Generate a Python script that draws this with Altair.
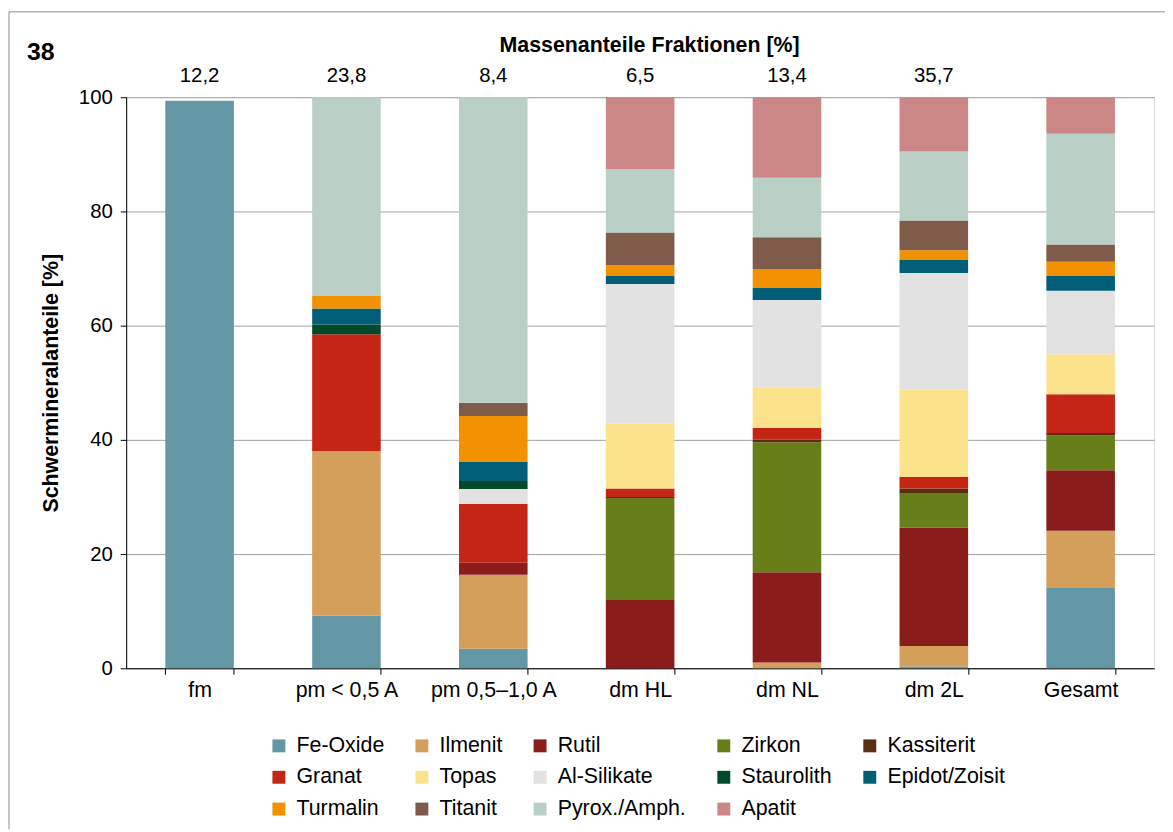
import altair as alt
import pandas as pd

categories = ["fm", "pm < 0,5 A", "pm 0,5–1,0 A", "dm HL", "dm NL", "dm 2L", "Gesamt"]
mass_labels = ["12,2", "23,8", "8,4", "6,5", "13,4", "35,7", ""]

minerals = ["Fe-Oxide", "Ilmenit", "Rutil", "Zirkon", "Kassiterit",
            "Granat", "Topas", "Al-Silikate", "Staurolith", "Epidot/Zoisit",
            "Turmalin", "Titanit", "Pyrox./Amph.", "Apatit"]
colors = ["#6497a6", "#d49f5a", "#8a1d1b", "#687e18", "#5a2d15",
          "#c42514", "#fde28c", "#e2e2e2", "#004a2b", "#005e77",
          "#f39200", "#7f5c4a", "#bad0c7", "#cb8785"]

fe_oxide = [99.4, 9.2, 3.4, 0, 0, 0.3, 14.2]
ilmenit = [0, 28.8, 13.0, 0, 1.0, 3.6, 9.9]
rutil = [0, 0, 2.1, 12.1, 15.8, 20.7, 10.6]
zirkon = [0, 0, 0, 17.7, 22.8, 6.1, 6.1]
kassiterit = [0, 0, 0, 0.2, 0.4, 0.8, 0.4]
granat = [0, 20.5, 10.3, 1.5, 2.1, 2.0, 6.8]
topas = [0, 0, 0, 11.3, 7.1, 15.3, 7.0]
al_silikate = [0, 0, 2.6, 24.5, 15.3, 20.4, 11.1]
staurolith = [0, 1.7, 1.4, 0, 0, 0, 0]
epidot_zoisit = [0, 2.8, 3.4, 1.4, 2.1, 2.3, 2.6]
turmalin = [0, 2.2, 8.0, 1.9, 3.3, 1.7, 2.5]
titanit = [0, 0, 2.3, 5.7, 5.6, 5.2, 3.0]
pyrox_amph = [0, 34.8, 53.5, 11.1, 10.4, 12.1, 19.4]
apatit = [0, 0, 0, 12.6, 14.1, 9.5, 6.4]

series = [fe_oxide, ilmenit, rutil, zirkon, kassiterit, granat, topas,
          al_silikate, staurolith, epidot_zoisit, turmalin, titanit,
          pyrox_amph, apatit]

rows = []
for i, (m, vals) in enumerate(zip(minerals, series)):
    for c, v in zip(categories, vals):
        if v > 0:
            rows.append({"cat": c, "mineral": m, "idx": i, "val": v})
df = pd.DataFrame(rows)
df_top = pd.DataFrame({"cat": categories, "mass": mass_labels})

FONT = "Liberation Sans"

x_enc = alt.X("cat:N", sort=categories,
              scale=alt.Scale(paddingInner=0.533, paddingOuter=0.2665),
              axis=alt.Axis(title=None, labelAngle=0, tickBand="extent",
                            domainColor="black", tickColor="black", tickSize=6,
                            labelFontSize=21.5, labelColor="black", labelPadding=5,
                            grid=False, labelFont=FONT))

bars = alt.Chart(df).mark_bar().encode(
    x=x_enc,
    y=alt.Y("val:Q", stack="zero",
            scale=alt.Scale(domain=[0, 100], nice=False),
            axis=alt.Axis(values=[0, 20, 40, 60, 80, 100],
                          title="Schwermineralanteile [%]",
                          titleFontSize=21.5, titleFontWeight="bold",
                          titleColor="black", titlePadding=16, titleFont=FONT,
                          labelFontSize=20.5, labelColor="black", labelFont=FONT,
                          labelPadding=8, tickSize=6, tickColor="black",
                          domainColor="black", gridColor="#a0a0a0",
                          gridWidth=1)),
    color=alt.Color("mineral:N", scale=alt.Scale(domain=minerals, range=colors),
                    legend=alt.Legend(orient="none", legendX=143, legendY=642,
                                      direction="horizontal",
                                      columns=5, title=None, symbolType="square",
                                      symbolSize=169, symbolStrokeWidth=0,
                                      labelFontSize=21.5, labelColor="black",
                                      labelFont=FONT, gridAlign="each",
                                      columnPadding=27, rowPadding=9,
                                      labelOffset=7, labelLimit=300)),
    order=alt.Order("idx:Q", sort="ascending"),
)

top_labels = alt.Chart(df_top).mark_text(fontSize=20.5, font=FONT, color="black",
                                         baseline="middle").encode(
    x=alt.X("cat:N", sort=categories),
    y=alt.value(-21),
    text="mass:N",
)

head = alt.Chart(pd.DataFrame({"t": ["Massenanteile Fraktionen [%]"]})).mark_text(
    fontSize=21.5, font=FONT, fontWeight="bold", color="black", baseline="middle"
).encode(x=alt.value(527), y=alt.value(-52), text="t:N")

num = alt.Chart(pd.DataFrame({"t": ["38"]})).mark_text(
    fontSize=25, font=FONT, fontWeight="bold", color="black", baseline="middle"
).encode(x=alt.value(-86), y=alt.value(-45), text="t:N")

frame_df = pd.DataFrame({"a": [0]})
border_top = alt.Chart(frame_df).mark_rule(color="#8c8c8c", strokeWidth=1).encode(
    x=alt.value(-118), x2=alt.value(1046), y=alt.value(-86))
border_left = alt.Chart(frame_df).mark_rule(color="#8c8c8c", strokeWidth=1).encode(
    x=alt.value(-118), y=alt.value(-86), y2=alt.value(737))

chart = alt.layer(bars, top_labels, head, num, border_top, border_left).properties(
    width=1035, height=575,
    padding={"left": 119, "top": 87, "right": 11, "bottom": 162},
    autosize=alt.AutoSizeParams(type="none"),
).configure_view(stroke=None).configure(font=FONT)

chart.save("out.html", embed_options={"renderer": "svg", "actions": False})
